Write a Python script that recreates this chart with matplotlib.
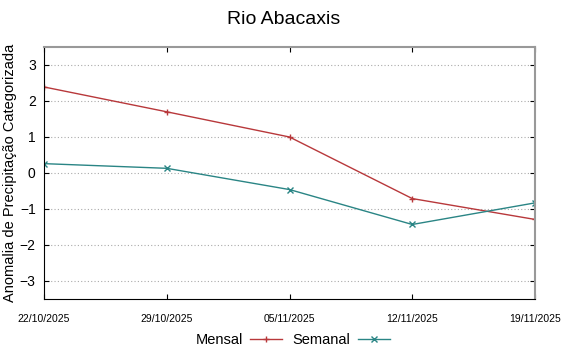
import matplotlib
matplotlib.use("Agg")
import matplotlib.pyplot as plt
import matplotlib.dates as mdates
from datetime import datetime

plt.rcParams['font.family'] = ['Liberation Sans', 'DejaVu Sans']

# dados
datas = ["22/10/2025", "29/10/2025", "05/11/2025", "12/11/2025", "19/11/2025"]
mensal = [2.39, 1.70, 1.00, -0.71, -1.29]
semanal = [0.26, 0.13, -0.46, -1.43, -0.83]

x = [datetime.strptime(d, "%d/%m/%Y") for d in datas]

fig = plt.figure(figsize=(5.68, 3.51), dpi=100)
ax = fig.add_axes([44 / 568, 1 - 299 / 351, (535 - 44) / 568, (299 - 47) / 351])

ax.plot(x, mensal, color="#b8383b", lw=1, marker="+", ms=5, mew=1, label="Mensal")
ax.plot(x, semanal, color="#2a8585", lw=1, marker="x", ms=4, mew=1, label="Semanal")

ax.set_xlim(x[0], x[-1])
ax.set_ylim(-3.5, 3.5)
ax.set_yticks([-3, -2, -1, 0, 1, 2, 3])
ax.set_xticks(x)
ax.xaxis.set_major_formatter(mdates.DateFormatter("%d/%m/%Y"))
ax.tick_params(axis="x", labelsize=7.5, direction="in", top=True, pad=11)
ax.tick_params(axis="y", labelsize=10, direction="in", right=True, pad=6)
ax.yaxis.grid(True, linestyle=(0, (1, 2)), color="#aaaaaa", lw=0.8)

for s in ["top", "right"]:
    ax.spines[s].set_color("#999999")
    ax.spines[s].set_linewidth(1.5)

ax.set_ylabel("Anomalia de Precipitação Categorizada", fontsize=10.5, labelpad=2)
fig.suptitle("Rio Abacaxis", fontsize=14, y=0.97)

fig.legend(loc="lower center", ncol=2, frameon=False, fontsize=10.5, markerfirst=False,
           bbox_to_anchor=(0.515, -0.025), handlelength=2.2, handletextpad=0.5,
           columnspacing=0.7)

fig.savefig("out.png", dpi=100)
